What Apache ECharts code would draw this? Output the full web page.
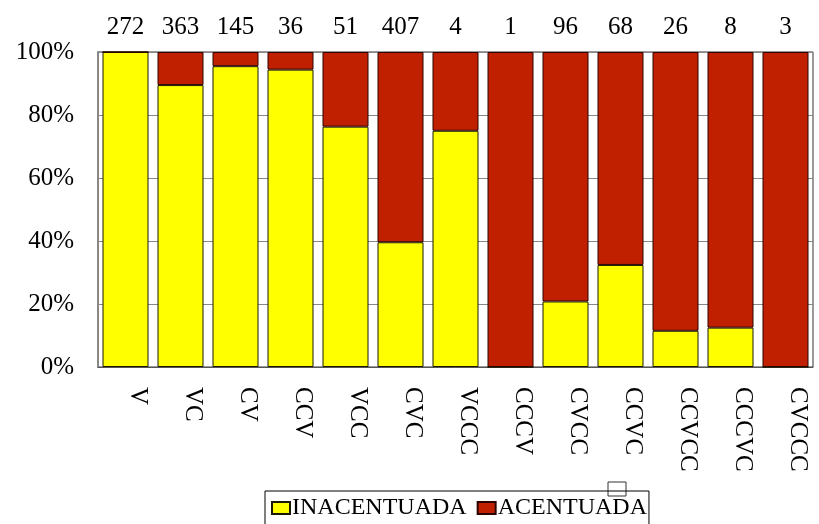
<!DOCTYPE html>
<html>
<head>
<meta charset="utf-8">
<script src="https://cdn.jsdelivr.net/npm/echarts@6/dist/echarts.min.js"></script>
<style>
  html, body { margin: 0; padding: 0; background: #fff; }
  #chart { width: 819px; height: 524px; }
</style>
</head>
<body>
<div id="chart"></div>
<script>
  // syllable patterns and number of words of each
  const categories = ['V', 'VC', 'CV', 'CCV', 'VCC', 'CVC', 'VCCC', 'CCCV', 'CVCC', 'CCVC', 'CCVCC', 'CCCVC', 'CVCCC'];
  const counts = [272, 363, 145, 36, 51, 407, 4, 1, 96, 68, 26, 8, 3];
  // percentages
  const inacentuada = [100, 89.5, 95.5, 94.4, 76.3, 39.6, 75, 0, 20.8, 32.4, 11.5, 12.5, 0];
  const acentuada = [0, 10.5, 4.5, 5.6, 23.7, 60.4, 25, 100, 79.2, 67.6, 88.5, 87.5, 100];
  const yTicks = [0, 20, 40, 60, 80, 100];

  const serif = 'Liberation Serif';
  let chart = echarts.init(document.getElementById('chart'));
  chart.setOption({
    animation: false,
    textStyle: { fontFamily: serif, color: '#000' },
    grid: {
      left: 98, right: 6, top: 52, bottom: 157,
      show: true, borderColor: '#333', borderWidth: 1
    },
    legend: {
      left: 265, top: 491,
      padding: [5, 2, 20, 6],
      borderColor: '#000', borderWidth: 1,
      icon: 'rect',
      itemWidth: 18, itemHeight: 12, itemGap: 10,
      textStyle: { fontFamily: serif, fontSize: 24, color: '#000', padding: [0, 0, 0, -3] },
      data: ['INACENTUADA', 'ACENTUADA']
    },
    xAxis: [
      {
        type: 'category',
        data: categories,
        axisLine: { lineStyle: { color: '#555', width: 1 } },
        axisTick: { show: false },
        axisLabel: {
          rotate: -90, margin: 20, interval: 0,
          verticalAlign: 'bottom',
          fontFamily: serif, fontSize: 25, color: '#000'
        }
      },
      {
        type: 'category',
        position: 'top',
        data: counts,
        axisLine: { show: false },
        axisTick: { show: false },
        axisLabel: { margin: 12, interval: 0, fontFamily: serif, fontSize: 25, color: '#000' }
      }
    ],
    yAxis: {
      type: 'value',
      min: yTicks[0], max: yTicks[yTicks.length - 1], interval: 20,
      axisLine: { show: true, lineStyle: { color: '#888', width: 2 } },
      axisTick: { show: false },
      splitLine: { lineStyle: { color: '#888', width: 1 } },
      axisLabel: { formatter: '{value}%', margin: 24, fontFamily: serif, fontSize: 25, color: '#000' }
    },
    series: [
      {
        name: 'INACENTUADA',
        type: 'bar',
        stack: 'total',
        barWidth: 46,
        data: inacentuada,
        itemStyle: { color: '#FFFF00', borderColor: '#1a1a00', borderWidth: 1 }
      },
      {
        name: 'ACENTUADA',
        type: 'bar',
        stack: 'total',
        barWidth: 46,
        data: acentuada,
        itemStyle: { color: '#C02000', borderColor: '#2a0500', borderWidth: 1 }
      }
    ],
    graphic: [
      {
        type: 'rect',
        shape: { x: 608, y: 482, width: 18, height: 14 },
        style: { fill: 'none', stroke: '#333', lineWidth: 1 }
      }
    ]
  });
</script>
</body>
</html>
